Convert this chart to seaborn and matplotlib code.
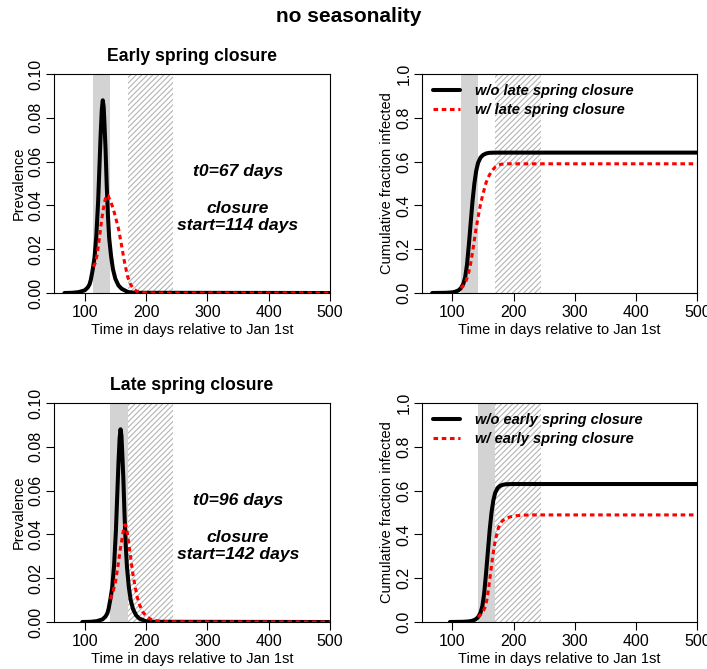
import numpy as np
import matplotlib
matplotlib.use("Agg")
import matplotlib.pyplot as plt
from matplotlib.ticker import FormatStrFormatter
import seaborn as sns

# ---- data (days since Jan 1st) ----
# early spring closure: t0 = 67, closure starts day 114
early_prev_day = [67, 80, 90, 100, 105, 108, 110, 113, 116, 119, 122, 124, 126, 128, 129.5,
                  131, 132, 134, 136, 138, 140, 143, 146, 150, 155, 160, 170, 180, 500]
early_prev = [0, 0.0001, 0.0004, 0.0012, 0.0025, 0.004, 0.006, 0.0105, 0.016, 0.026, 0.042, 0.057,
              0.072, 0.084, 0.088, 0.085, 0.079, 0.066, 0.049, 0.035, 0.025, 0.017, 0.011,
              0.0065, 0.0035, 0.002, 0.0005, 0.0001, 0]
early_prev_cl_day = [114, 117, 120, 124, 128, 132, 135, 138, 142, 146, 150, 155, 160, 165,
                     170, 175, 180, 185, 190, 200, 210, 500]
early_prev_cl = [0.012, 0.0135, 0.017, 0.025, 0.034, 0.041, 0.0445, 0.0445, 0.042, 0.039, 0.035,
                 0.0295, 0.022, 0.014, 0.0075, 0.0038, 0.0018, 0.0008, 0.0003, 0.0001, 0, 0]
early_cum_day = [67, 90, 100, 105, 110, 114, 118, 121, 124, 127, 130, 133, 136, 139, 142, 146,
                 150, 155, 160, 170, 500]
early_cum = [0, 0.001, 0.003, 0.006, 0.012, 0.022, 0.042, 0.072, 0.13, 0.22, 0.32, 0.42, 0.50,
             0.558, 0.594, 0.618, 0.630, 0.637, 0.640, 0.641, 0.641]
early_cum_cl_day = [114, 118, 122, 126, 130, 134, 138, 142, 146, 150, 155, 160, 165, 170, 175,
                    180, 190, 500]
early_cum_cl = [0.022, 0.034, 0.052, 0.085, 0.135, 0.205, 0.28, 0.345, 0.405, 0.452, 0.503,
                0.536, 0.559, 0.575, 0.584, 0.588, 0.590, 0.590]

# late spring closure: t0 = 96, closure starts day 142
late_prev_day = [96, 110, 120, 129, 134, 137, 139, 142, 145, 148, 151, 153, 155, 157, 158.5,
                 160, 161, 163, 165, 167, 169, 172, 175, 179, 184, 189, 199, 209, 500]
late_prev = [0, 0.0001, 0.0004, 0.0012, 0.0025, 0.004, 0.006, 0.0105, 0.016, 0.026, 0.042, 0.057,
             0.072, 0.084, 0.088, 0.085, 0.079, 0.066, 0.049, 0.035, 0.025, 0.016, 0.010,
             0.0058, 0.003, 0.0016, 0.0004, 0.0001, 0]
late_prev_cl_day = [142, 146, 150, 154, 158, 162, 165, 167, 170, 174, 178, 182, 186, 190, 195,
                    200, 206, 212, 220, 230, 500]
late_prev_cl = [0.0105, 0.0135, 0.018, 0.025, 0.033, 0.040, 0.0443, 0.0443, 0.040, 0.0315, 0.023,
                0.0165, 0.011, 0.0075, 0.0045, 0.0028, 0.0015, 0.0009, 0.0004, 0.0001, 0]
late_cum_day = [96, 118, 128, 133, 138, 142, 146, 149, 152, 155, 158, 161, 164, 167, 170, 174,
                178, 183, 188, 198, 500]
late_cum = [0, 0.001, 0.003, 0.006, 0.012, 0.022, 0.042, 0.072, 0.13, 0.22, 0.32, 0.42, 0.50,
            0.556, 0.59, 0.612, 0.622, 0.627, 0.629, 0.63, 0.63]
late_cum_cl_day = [142, 146, 150, 154, 157, 160, 163, 166, 169, 172, 175, 178, 182, 186, 190,
                   196, 204, 215, 230, 500]
late_cum_cl = [0.022, 0.033, 0.048, 0.07, 0.11, 0.17, 0.235, 0.30, 0.355, 0.395, 0.428, 0.448,
               0.463, 0.471, 0.476, 0.481, 0.485, 0.488, 0.489, 0.489]

closure_len = 28
summer = (170, 244)

sns.set_style("ticks")
plt.rcParams["font.family"] = ["Liberation Sans", "DejaVu Sans"]
plt.rcParams["hatch.linewidth"] = 0.8
for k in ["text.color", "axes.labelcolor", "xtick.color", "ytick.color", "axes.edgecolor"]:
    plt.rcParams[k] = "black"

W, H = 707, 669
fig = plt.figure(figsize=(W / 100, H / 100), dpi=100)


def make_ax(left, top, right, bottom):
    return fig.add_axes([left / W, 1 - bottom / H, (right - left) / W, (bottom - top) / H])


def style_ax(ax, ymax, yfmt, ylabel):
    ax.set_xlim(50, 500)
    ax.set_ylim(0, ymax)
    ax.set_xticks([100, 200, 300, 400, 500])
    ax.set_yticks(np.linspace(0, ymax, 6))
    ax.yaxis.set_major_formatter(FormatStrFormatter(yfmt))
    for s in ax.spines.values():
        s.set_visible(True)
        s.set_linewidth(0.8)
        s.set_color("black")
    ax.tick_params(length=5.5, width=0.8, labelsize=11.5, color="black", labelcolor="black", pad=3)
    ax.tick_params(axis="y", labelrotation=90, pad=2)
    for lab in ax.get_yticklabels():
        lab.set_va("center")
    ax.set_xlabel("Time in days relative to Jan 1st", fontsize=10.5)
    ax.set_ylabel(ylabel, fontsize=10.5)
    w = ax.get_position().width * W
    h = ax.get_position().height * H
    ax.xaxis.set_label_coords(0.5, -37 / h)
    ax.xaxis.label.set_va("center")
    ax.yaxis.set_label_coords(-35 / w, 0.5)
    ax.yaxis.label.set_va("center")


def shade(ax, start):
    ax.axvspan(start, start + closure_len, facecolor="#d3d3d3", edgecolor="none", zorder=0)
    ax.axvspan(summer[0], summer[1], facecolor="white", edgecolor="#b4b4b4", hatch="//////",
               linewidth=0, zorder=0)


dash = (0, (1.5, 1.2))
panels = [
    (74, 293, "Early spring closure", early_prev_day, early_prev, early_prev_cl_day, early_prev_cl,
     early_cum_day, early_cum, early_cum_cl_day, early_cum_cl, 67, 114, "late"),
    (403, 622, "Late spring closure", late_prev_day, late_prev, late_prev_cl_day, late_prev_cl,
     late_cum_day, late_cum, late_cum_cl_day, late_cum_cl, 96, 142, "early"),
]

for (top, bot, title, pd_, pv, pcd, pcv, cd, cv, ccd, ccv, t0, cs, word) in panels:
    # prevalence
    ax = make_ax(54, top, 330, bot)
    shade(ax, cs)
    sns.lineplot(x=pd_, y=pv, ax=ax, color="black", lw=2.9, estimator=None, zorder=3)
    sns.lineplot(x=pcd, y=pcv, ax=ax, color="red", lw=2.2, linestyle=dash, estimator=None, zorder=4)
    style_ax(ax, 0.1, "%.2f", "Prevalence")
    ax.set_title(title, fontsize=12.7, fontweight="bold", pad=9.7)
    tkw = dict(ha="center", va="center", fontsize=12.6, fontweight="bold", fontstyle="italic")
    ax.text(350, 0.0554, f"t0={t0} days", **tkw)
    ax.text(350, 0.0388, "closure", **tkw)
    ax.text(350, 0.0306, f"start={cs} days", **tkw)

    # cumulative
    ax = make_ax(421.7, top, 697.3, bot)
    shade(ax, cs)
    sns.lineplot(x=cd, y=cv, ax=ax, color="black", lw=2.9, estimator=None, zorder=3,
                 label=f"w/o {word} spring closure")
    sns.lineplot(x=ccd, y=ccv, ax=ax, color="red", lw=2.2, linestyle=dash, estimator=None, zorder=4,
                 label=f"w/ {word} spring closure")
    style_ax(ax, 1.0, "%.1f", "Cumulative fraction infected")
    ax.legend(loc="upper left", bbox_to_anchor=(0.041, 0.953), frameon=False,
              borderaxespad=0, borderpad=0, handlelength=1.85, handletextpad=1.0,
              labelspacing=0.3, prop=dict(size=10.5, weight="bold", style="italic"))

fig.text(349 / W, 1 - 21.7 / H, "no seasonality", ha="center", va="baseline",
         fontsize=15, fontweight="bold")

fig.savefig("out.png", dpi=100)
